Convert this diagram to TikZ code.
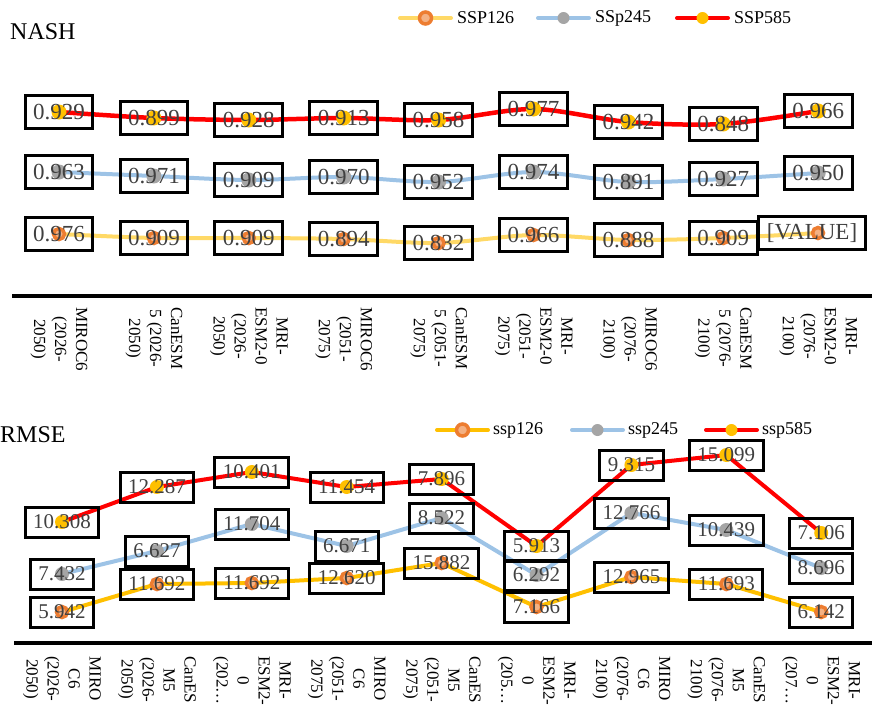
\documentclass[tikz,border=0pt]{standalone}
\usepackage{fontspec}
\setmainfont{Liberation Serif}
\usetikzlibrary{positioning,backgrounds}

\definecolor{lineRed}{HTML}{FF0000}
\definecolor{lineBlue}{HTML}{9DC3E6}
\definecolor{lineSand}{HTML}{FFD966}
\definecolor{lineGold}{HTML}{FFC000}
\definecolor{markGold}{HTML}{FFC000}
\definecolor{markGray}{HTML}{A5A5A5}
\definecolor{markOrange}{HTML}{ED7D31}
\definecolor{markTan}{HTML}{F4B183}
\definecolor{labelGray}{HTML}{404040}

\tikzset{
  valbox/.style={draw=black, line width=3pt, text=labelGray, inner xsep=8pt, inner ysep=0pt},
  nashbox/.style={valbox, minimum height=33pt, font=\fontsize{23}{23}\selectfont},
  rmsebox/.style={valbox, minimum height=30pt, font=\fontsize{21}{21}\selectfont},
  serie/.style={line width=4pt, line join=round, line cap=round},
  dotGold/.style={fill=markGold},
  dotGray/.style={fill=markGray},
  dotOrange/.style={fill=markTan, draw=markOrange, line width=3.5pt},
  axislabel/.style={rotate=-90, anchor=west, align=center, inner sep=0pt, font=\fontsize{17}{21}\selectfont},
  legtext/.style={inner sep=0pt, font=\fontsize{18}{18}\selectfont},
  charttitle/.style={inner sep=0pt, anchor=base west, font=\fontsize{24}{24}\selectfont}
}

\begin{document}
\begin{tikzpicture}[x=1pt, y=-1pt]
  \useasboundingbox (0,0) rectangle (872,707);

  % NASH chart
  \node[charttitle] (tnash) at (10,39) {NASH};
  \foreach \xa/\col/\dot/\txt [count=\i] in {400/lineSand/dotOrange/SSP126, 538/lineBlue/dotGray/SSp245, 677/lineRed/dotGold/SSP585}{
    \coordinate (na\i) at (\xa,18);
    \coordinate (nb\i) at (\xa+51,18);
    \draw[serie, \col] (na\i) -- (nb\i);
    \path[\dot] (\xa+25.5,18) circle[radius=6];
    \node[legtext, right=6pt of nb\i] {\txt};
  }
  \foreach \py/\val [count=\i] in {112/0.929,118/0.899,120/0.928,118/0.913,120/0.958,109/0.977,122/0.942,124/0.848,111/0.966}{
    \coordinate (nr\i) at ({59+94.9*(\i-1)},\py);
    \node[nashbox] (nrb\i) at (nr\i) {\val};
  }
  \foreach \py/\val [count=\i] in {172/0.963,176/0.971,180/0.909,177/0.970,182/0.952,172/0.974,182/0.891,179/0.927,173/0.950}{
    \coordinate (ng\i) at ({59+94.9*(\i-1)},\py);
    \node[nashbox] (ngb\i) at (ng\i) {\val};
  }
  \foreach \py/\val [count=\i] in {234/0.976,238/0.909,238/0.909,239/0.894,243/0.832,235/0.966,240/0.888,238/0.909}{
    \coordinate (ns\i) at ({59+94.9*(\i-1)},\py);
    \node[nashbox] (nsb\i) at (ns\i) {\val};
  }
  \coordinate (ns9) at (818,233);
  \node[nashbox, xshift=-6pt] (nsb9) at (ns9) {[VALUE]};

  \begin{scope}[on background layer]
    \draw[serie, lineSand] plot[smooth, tension=0.5] coordinates {(ns1) (ns2) (ns3) (ns4) (ns5) (ns6) (ns7) (ns8) (ns9)};
    \draw[serie, lineBlue] plot[smooth, tension=0.5] coordinates {(ng1) (ng2) (ng3) (ng4) (ng5) (ng6) (ng7) (ng8) (ng9)};
    \draw[serie, lineRed, line width=4.5pt] plot[smooth, tension=0.5] coordinates {(nr1) (nr2) (nr3) (nr4) (nr5) (nr6) (nr7) (nr8) (nr9)};
    \foreach \i in {1,...,9}{
      \path[dotOrange] (ns\i) circle[radius=5.5];
      \path[dotGray] (ng\i) circle[radius=7.5];
      \path[dotGold] (nr\i) circle[radius=7.5];
    }
  \end{scope}

  \draw[line width=4pt] (12,296) -- (872,296);
  \foreach \lab [count=\i] in {{MIROC6\\(2026-\\2050)}, {CanESM\\5 (2026-\\2050)}, {MRI-\\ESM2-0\\(2026-\\2050)},
      {MIROC6\\(2051-\\2075)}, {CanESM\\5 (2051-\\2075)}, {MRI-\\ESM2-0\\(2051-\\2075)},
      {MIROC6\\(2076-\\2100)}, {CanESM\\5 (2076-\\2100)}, {MRI-\\ESM2-0\\(2076-\\2100)}}
    \node[axislabel] (nx\i) at ({59+94.9*(\i-1)},307) {\lab};

  % RMSE chart
  \node[charttitle] (trmse) at (0,442) {RMSE};
  \foreach \xa/\col/\dot/\txt [count=\i] in {437/lineGold/dotOrange/ssp126, 572/lineBlue/dotGray/ssp245, 706/lineRed/dotGold/ssp585}{
    \coordinate (ma\i) at (\xa,430);
    \coordinate (mb\i) at (\xa+51,430);
    \draw[serie, \col] (ma\i) -- (mb\i);
    \path[\dot] (\xa+25.5,430) circle[radius=6];
    \node[legtext, right=5pt of mb\i] {\txt};
  }
  \foreach \py/\val [count=\i] in {522/10.308,487/12.287,472/10.401,487/11.454,479/7.896,546/5.913,465/9.315,455/15.099,533/7.106}{
    \coordinate (mr\i) at ({62+94.9*(\i-1)},\py);
    \node[rmsebox] (mrb\i) at (mr\i) {\val};
  }
  \foreach \py/\val [count=\i] in {574/7.432,551/6.627,524/11.704,546/6.671,518/8.522,575/6.292,513/12.766,530/10.439,568/8.696}{
    \coordinate (mg\i) at ({62+94.9*(\i-1)},\py);
    \node[rmsebox] (mgb\i) at (mg\i) {\val};
  }
  \foreach \py/\val [count=\i] in {612/5.942,584/11.692,583/11.692,578/12.620,563/15.882,607/7.166,577/12.965,584/11.693,612/6.142}{
    \coordinate (ms\i) at ({62+94.9*(\i-1)},\py);
    \node[rmsebox] (msb\i) at (ms\i) {\val};
  }

  \begin{scope}[on background layer]
    \draw[serie, lineGold] (ms1) \foreach \i in {2,...,9}{ -- (ms\i)};
    \draw[serie, lineBlue] (mg1) \foreach \i in {2,...,9}{ -- (mg\i)};
    \draw[serie, lineRed] (mr1) \foreach \i in {2,...,9}{ -- (mr\i)};
    \foreach \i in {1,...,9}{
      \path[dotOrange] (ms\i) circle[radius=5.5];
      \path[dotGray] (mg\i) circle[radius=7];
      \path[dotGold] (mr\i) circle[radius=7];
    }
  \end{scope}

  \draw[line width=4pt] (14,643) -- (872,643);
  \foreach \lab [count=\i] in {{MIRO\\C6\\(2026-\\2050)}, {CanES\\M5\\(2026-\\2050)}, {MRI-\\ESM2-\\0\\(202\ldots},
      {MIRO\\C6\\(2051-\\2075)}, {CanES\\M5\\(2051-\\2075)}, {MRI-\\ESM2-\\0\\(205\ldots},
      {MIRO\\C6\\(2076-\\2100)}, {CanES\\M5\\(2076-\\2100)}, {MRI-\\ESM2-\\0\\(207\ldots}}
    \node[axislabel] (mx\i) at ({62+94.9*(\i-1)},656) {\lab};
\end{tikzpicture}
\end{document}
